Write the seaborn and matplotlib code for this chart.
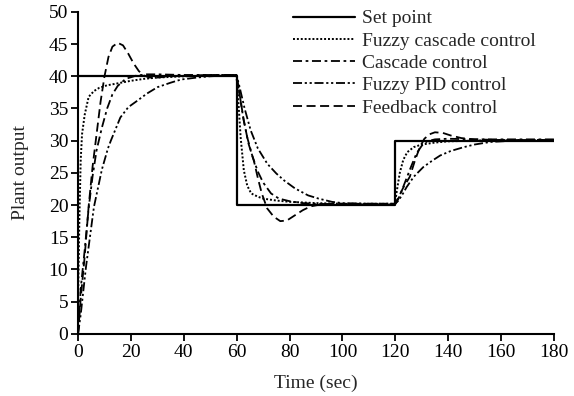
import numpy as np
import pandas as pd
import matplotlib
matplotlib.use("Agg")
import matplotlib.pyplot as plt
import seaborn as sns

# ---- data ----
sp_t = [0, 60, 120, 180]
sp_y = [40, 20, 30, 30]

fc_t = [0, 0.5, 1, 1.5, 2.5, 4, 6, 8, 11, 15, 20, 25, 30, 40, 50, 59.9, 60.5, 61.5, 62.7, 64,
        65.5, 68, 70, 75, 80, 90, 100, 110, 119.9, 120.5, 121.7, 123, 124.5, 127, 130, 135,
        140, 150, 160, 170, 180]
fc_y = [5, 18, 27, 31, 34, 36.8, 37.7, 38.2, 38.6, 38.9, 39.3, 39.6, 39.8, 40.0, 40.1, 40.2,
        37, 30.5, 25.4, 23, 21.8, 21.3, 21.0, 20.7, 20.5, 20.3, 20.2, 20.2, 20.2, 22, 25, 27,
        28.2, 29, 29.4, 29.7, 29.9, 30.0, 30.1, 30.1, 30.1]

cc_t = [0, 1, 2.5, 4, 5.5, 7, 9, 11, 13, 15, 18, 22, 26, 30, 40, 50, 59.9, 61, 62.5, 64, 66,
        68, 70, 73, 76, 80, 85, 90, 100, 110, 119.9, 121, 122.5, 124.3, 126, 128, 130, 132,
        135, 140, 150, 160, 170, 180]
cc_y = [0, 7, 13, 19.5, 24.5, 28.5, 32, 35, 37.2, 38.5, 39.6, 40.1, 40.3, 40.3, 40.2, 40.2,
        40.2, 37.5, 33.5, 30.5, 27.5, 25.2, 23.5, 21.8, 21.0, 20.6, 20.3, 20.2, 20.1, 20.1,
        20.1, 20.8, 22.3, 24.2, 26, 28, 29.2, 29.9, 30.2, 30.3, 30.2, 30.2, 30.2, 30.2]

fp_t = [0, 1, 3, 6, 9, 11.3, 12.4, 16, 19, 22.4, 26, 30, 35, 39, 45, 50, 55, 59.9, 61, 63,
        65.3, 68, 71.6, 75, 78, 82, 87, 91, 96, 100, 110, 119.9, 121, 122.5, 124.3, 127,
        130.6, 134, 137, 141, 146, 150, 156, 165, 180]
fp_y = [0, 3, 10.4, 19.7, 25.5, 28.8, 30, 33.6, 35.2, 36.2, 37.3, 38.3, 39.0, 39.5, 39.8, 40.0,
        40.1, 40.2, 38.5, 35, 31.6, 28.8, 26.4, 24.9, 23.8, 22.6, 21.5, 21.0, 20.5, 20.3, 20.2,
        20.2, 20.6, 21.5, 22.8, 24.4, 25.9, 26.9, 27.7, 28.4, 29.0, 29.4, 29.8, 30.0, 30.1]

fb_t = [0, 1, 2.5, 4, 5.5, 7, 8.5, 10, 11.5, 13, 15, 17, 19, 21, 23, 25, 27, 30, 35, 40, 50,
        59.9, 61, 62.7, 64.5, 66.5, 68, 69.5, 71.5, 74, 76.5, 79, 82, 85, 88, 92, 96, 100, 110,
        119.9, 121, 123, 125.5, 127.5, 129.3, 131, 133, 135, 138, 141, 145, 150, 160, 170, 180]
fb_y = [0, 5.5, 12, 19.8, 26, 31, 36, 40, 43, 44.6, 45.2, 44.8, 43.5, 42, 40.8, 40.1, 39.8,
        39.8, 40.0, 40.1, 40.2, 40.2, 37.5, 33.1, 29.5, 26.9, 24.2, 21.8, 19.5, 18.2, 17.5,
        17.6, 18.4, 19.2, 19.8, 20.1, 20.2, 20.2, 20.2, 20.2, 21, 22.7, 24.4, 27, 29, 30.3,
        31.0, 31.3, 31.2, 30.8, 30.4, 30.2, 30.1, 30.1, 30.1]

x_ticks = [0, 20, 40, 60, 80, 100, 120, 140, 160, 180]
y_ticks = [0, 5, 10, 15, 20, 25, 30, 35, 40, 45, 50]

sns.set_style("ticks")
plt.rcParams["font.family"] = ["Liberation Serif", "DejaVu Serif"]

fig = plt.figure(figsize=(5.74, 3.96), dpi=100)
ax = fig.add_axes([0.136, 0.157, 0.829, 0.813])

lw = 1.3
sns.lineplot(x=sp_t, y=sp_y, ax=ax, color="black", lw=1.6, drawstyle="steps-post",
             label="Set point", sort=False, estimator=None)
sns.lineplot(x=fc_t, y=fc_y, ax=ax, color="black", lw=1.4, linestyle=(0, (1, 1)),
             label="Fuzzy cascade control", sort=False, estimator=None)
sns.lineplot(x=cc_t, y=cc_y, ax=ax, color="black", lw=lw, linestyle=(0, (5, 2, 1.5, 2)),
             label="Cascade control", sort=False, estimator=None)
sns.lineplot(x=fp_t, y=fp_y, ax=ax, color="black", lw=lw,
             linestyle=(0, (5, 1.5, 1.2, 1.5, 1.2, 1.5)),
             label="Fuzzy PID control", sort=False, estimator=None)
sns.lineplot(x=fb_t, y=fb_y, ax=ax, color="black", lw=lw, linestyle=(0, (5, 2.5)),
             label="Feedback control", sort=False, estimator=None)

ax.set_xlim(0, 180)
ax.set_ylim(0, 50)
ax.set_xticks(x_ticks)
ax.set_yticks(y_ticks)
ax.tick_params(axis="both", direction="out", length=5, width=1.3, labelsize=14,
               colors="black", pad=2)
for s in ["top", "right"]:
    ax.spines[s].set_visible(False)
for s in ["left", "bottom"]:
    ax.spines[s].set_linewidth(1.5)
    ax.spines[s].set_color("black")

ax.set_xlabel("Time (sec)", fontsize=14, labelpad=10)
ax.set_ylabel("Plant output", fontsize=14, labelpad=14)

leg = ax.legend(loc="upper left", bbox_to_anchor=(0.503, 0.985),
                bbox_transform=fig.transFigure, frameon=False, fontsize=14,
                handlelength=3.2, handletextpad=0.36, labelspacing=0.24, borderpad=0.2,
                borderaxespad=0)
for h in leg.get_lines():
    h.set_color("black")

fig.savefig("out.png", dpi=100)
